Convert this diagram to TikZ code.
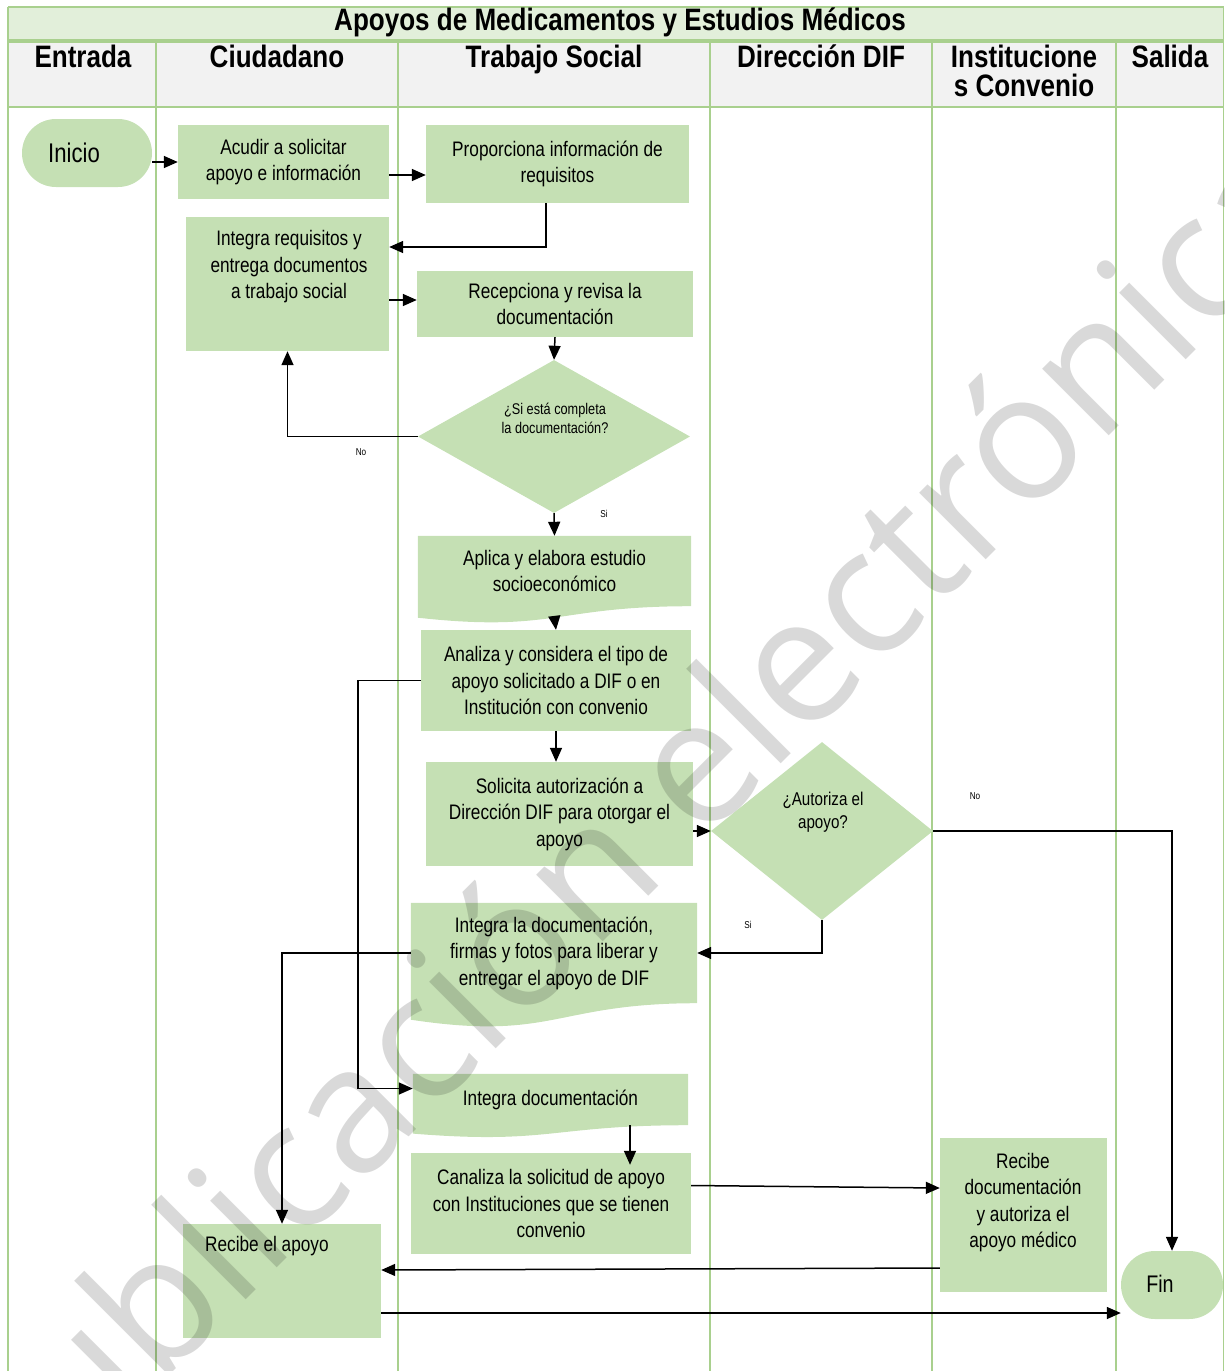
\documentclass[tikz,border=0pt]{standalone}
\usepackage{fontspec}
\setmainfont{Liberation Sans}
\newfontfamily\narrowfont[FakeStretch=0.82]{Liberation Sans}
\newfontfamily\headfont[FakeStretch=0.84]{Liberation Sans Bold}
\newfontfamily\markfont{Open Sans}
\usetikzlibrary{shapes.geometric,arrows.meta,calc}
\pgfdeclarelayer{bg}
\pgfdeclarelayer{fg}
\pgfsetlayers{bg,main,fg}
\definecolor{boxgreen}{RGB}{197,224,180}
\definecolor{titlegreen}{RGB}{226,239,218}
\definecolor{headgray}{RGB}{242,242,242}
\definecolor{laneline}{RGB}{169,208,142}
\newcommand\boxtextfont{\narrowfont\fontsize{21}{26.5}\selectfont}
\newcommand\headtextfont{\headfont\fontsize{31}{31}\selectfont}
\begin{document}
\begin{tikzpicture}[x=1pt,y=-1pt,
  lane/.style={draw=laneline,line width=1.2pt},
  box/.style={fill=boxgreen,inner sep=0pt,align=center,font=\boxtextfont},
  doctext/.style={inner sep=0pt,align=center,font=\boxtextfont},
  txt/.style={inner sep=0pt,align=center,font=\boxtextfont},
  stadium/.style={fill=boxgreen,inner sep=0pt,rounded corners=33.9pt},
  decision/.style={diamond,fill=boxgreen,inner sep=0pt},
  head/.style={inner sep=0pt,align=center,anchor=north,font=\headtextfont},
  lbl/.style={inner sep=0pt,font=\narrowfont\fontsize{10}{10}\selectfont},
  arr/.style={draw=black,line width=1.5pt,-{Triangle[length=14pt,width=12pt]}}]
\useasboundingbox (0,0) rectangle (1224,1371);

% ---- swimlane frame ----
\begin{pgfonlayer}{bg}
  \fill[titlegreen] (8,7) rectangle (1224,40);
  \fill[headgray] (8,42) rectangle (1224,107);
  \draw[lane] (8,7) -- (1224,7);
  \draw[lane] (8,40) -- (1224,40);
  \draw[lane] (8,42) -- (1224,42);
  \draw[lane] (8,107) -- (1224,107);
  \draw[lane] (8,7) -- (8,1371);
  \foreach \lx in {156,398,710,932,1116}
    \draw[lane] (\lx,42) -- (\lx,1371);
  \draw[lane] (1223.4,7) -- (1223.4,1371);
\end{pgfonlayer}

\node[inner sep=0pt,anchor=north,font=\headtextfont] (title) at (620,8) {Apoyos de Medicamentos y Estudios Médicos};
\node[head] (hentrada) at (83,45) {Entrada};
\node[head] (hciudadano) at (277,45) {Ciudadano};
\node[head] (htrabajo) at (554,45) {Trabajo Social};
\node[head] (hdif) at (821,45) {Dirección DIF};
\node[head] (hinst) at (1024,45) {Institucione\\[-2pt]s Convenio};
\node[head] (hsalida) at (1170,45) {Salida};

% ---- process shapes ----
\node[stadium,minimum width=130pt,minimum height=68pt] (inicio) at (87,153) {};
\node[txt,font=\narrowfont\fontsize{27}{27}\selectfont] (iniciotxt) at (74,153) {Inicio};

\node[box,minimum width=211pt,minimum height=74pt] (acudir) at (283.5,162)
  {Acudir a solicitar\\apoyo e información};
\node[box,minimum width=263pt,minimum height=78pt] (prop) at (557.5,164)
  {Proporciona información de\\requisitos};

\node[box,minimum width=203pt,minimum height=134pt] (intreq) at (287.5,284) {};
\node[txt] (intreqtxt) at (289,267) {Integra requisitos y\\entrega documentos\\a trabajo social};

\node[box,minimum width=276pt,minimum height=66pt] (recep) at (555,304)
  {Recepciona y revisa la\\documentación};

\node[decision,minimum width=272pt,minimum height=153pt] (d1) at (554,436.5) {};
\node[txt,font=\narrowfont\fontsize{15.5}{19}\selectfont] (d1txt) at (555,418)
  {¿Si está completa\\la documentación?};

% document shape: Aplica
\node[doctext,minimum width=273pt,minimum height=70pt] (aplica) at (554.5,571)
  {Aplica y elabora estudio\\socioeconómico};
\coordinate (aplicabot) at ($(aplica.south)+(0,11.4)$);

\node[box,minimum width=270pt,minimum height=101pt] (analiza) at (556,680.5)
  {Analiza y considera el tipo de\\apoyo solicitado a DIF o en\\Institución con convenio};

\node[box,minimum width=267pt,minimum height=104pt] (solicita) at (559.5,814)
  {Solicita autorización a\\Dirección DIF para otorgar el\\apoyo};

\node[decision,minimum width=222pt,minimum height=178pt] (d2) at (822,831) {};
\node[txt,font=\narrowfont\fontsize{18.5}{23.5}\selectfont] (d2txt) at (823,812)
  {¿Autoriza el\\apoyo?};

% document shape: Integra la documentación
\node[doctext,minimum width=286pt,minimum height=100pt] (intdif) at (554,953)
  {Integra la documentación,\\firmas y fotos para liberar y\\entregar el apoyo de DIF};

% document shape: Integra documentación
\node[doctext,minimum width=275pt,minimum height=51pt] (intdoc) at (550.5,1099.5)
  {Integra documentación};

\node[box,minimum width=280pt,minimum height=101pt] (canaliza) at (551,1203.5)
  {Canaliza la solicitud de apoyo\\con Instituciones que se tienen\\convenio};

\node[box,minimum width=167pt,minimum height=154pt] (recdoc) at (1023.5,1215) {};
\node[txt] (recdoctxt) at (1023,1202.5)
  {Recibe\\documentación\\y autoriza el\\apoyo médico};

\node[box,minimum width=198pt,minimum height=114pt] (recibe) at (282,1281) {};
\node[txt,anchor=west] (recibetxt) at (205,1246) {Recibe el apoyo};

\node[stadium,minimum width=102pt,minimum height=68pt] (fin) at (1172,1285) {};
\node[txt,font=\narrowfont\fontsize{24}{24}\selectfont] (fintxt) at (1160,1284) {Fin};

% fills of the document shapes (wavy lower edge)
\begin{pgfonlayer}{bg}
  \fill[boxgreen] (aplica.north west) -- (aplica.north east) -- (aplica.south east)
    .. controls (aplica.south) and ($(aplica.south)+(0,26.5)$) .. ($(aplica.south west)+(0,11.5)$) -- cycle;
  \fill[boxgreen] (intdif.north west) -- (intdif.north east) -- (intdif.south east)
    .. controls (intdif.south) and ($(intdif.south)+(0,38.1)$) .. ($(intdif.south west)+(0,16.5)$) -- cycle;
  \fill[boxgreen] (intdoc.north west) -- (intdoc.north east) -- (intdoc.south east)
    .. controls (intdoc.south) and ($(intdoc.south)+(0,19.5)$) .. ($(intdoc.south west)+(0,8.4)$) -- cycle;
\end{pgfonlayer}

% ---- connectors ----
\draw[arr] (inicio.east |- acudir.west) -- (acudir.west);
\draw[arr] ($(acudir.east)+(0,13)$) -- ($(prop.west)+(0,11)$);
\draw[arr] ($(prop.south)+(-11.5,0)$) |- ($(intreq.east)+(0,-37)$);
\draw[arr] ($(intreq.east)+(0,16)$) -- ($(recep.west)+(0,-4)$);
\draw[arr] (recep.south) -- (d1.north);
\draw[arr] (d1.west) -| (intreq.south);
\node[lbl] (lblno1) at (361,452) {No};
\draw[arr] (d1.south) -- (aplica.north);
\node[lbl] (lblsi1) at (604,514) {Si};
\draw[arr] (aplicabot) -- (analiza.north);
\draw[arr] (analiza.south) -- (analiza.south |- solicita.north);
\draw[arr] (solicita.east |- d2.west) -- (d2.west);
\draw[arr] (d2.east) -| (fin.north);
\node[lbl] (lblno2) at (975,796) {No};
\draw[arr] (d2.south) |- (intdif.east);
\node[lbl] (lblsi2) at (748,925) {Si};
\draw[arr] (analiza.west) -- ++(-63,0) |- ($(intdoc.west)+(0,-11)$);
\draw[arr] (intdif.west) -| (recibe.north);
\draw[arr] ($(intdoc.south)+(79.5,0)$) -- ($(canaliza.north)+(79,12)$);
\draw[arr] ($(canaliza.east)+(0,-18)$) -- ($(recdoc.west)+(0,-27)$);
\draw[arr] ($(recdoc.west)+(0,53)$) -- ($(recibe.east)+(0,-11)$);
\draw[arr] ($(recibe.east)+(0,32)$) -- ($(fin.west)+(0,28)$);

% ---- watermark ----
\begin{pgfonlayer}{fg}
  \node[rotate=45,inner sep=0pt,text=black,text opacity=0.15,
        font=\markfont\fontsize{176}{176}\selectfont] (stamp) at (638,842)
    {publicación electrónica};
\end{pgfonlayer}
\end{tikzpicture}
\end{document}
